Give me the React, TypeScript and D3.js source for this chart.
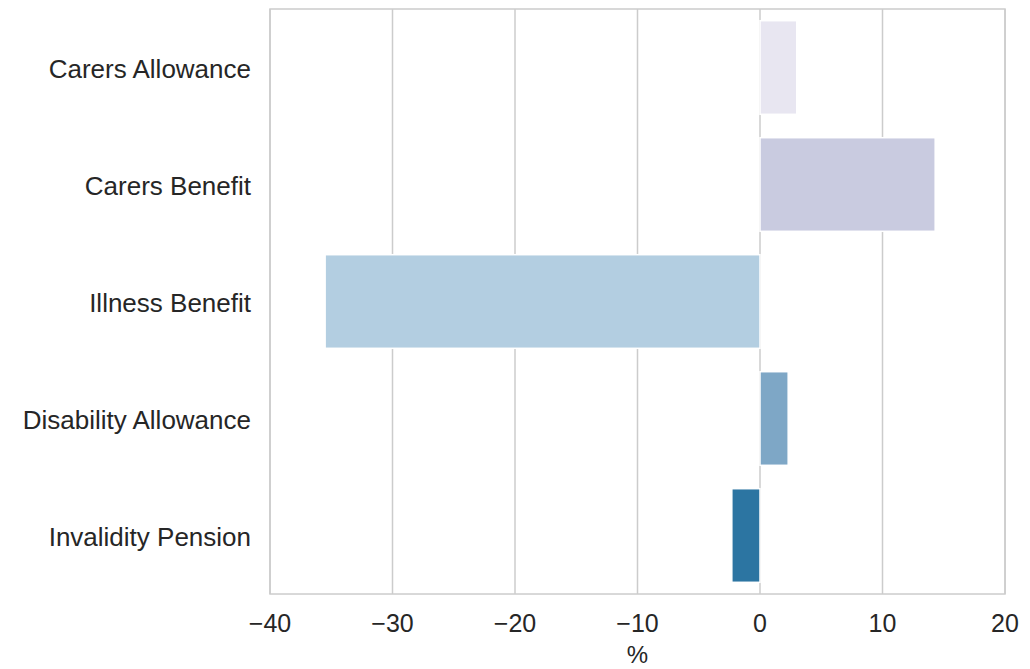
import React from 'react';
import * as d3 from 'd3';

const categories = [
  'Carers Allowance',
  'Carers Benefit',
  'Illness Benefit',
  'Disability Allowance',
  'Invalidity Pension',
];
const changes = [3.0, 14.3, -35.5, 2.3, -2.3];
const barColors = ['#e8e6f1', '#c9cbe0', '#b3cee1', '#7ea7c6', '#2c75a2'];
const xTicks = [-40, -30, -20, -10, 0, 10, 20];

const width = 1030;
const height = 669;
const margin = { top: 9, right: 25, bottom: 75, left: 270 };
const font = '"Liberation Sans", Arial, sans-serif';

export default function App() {
  const x = d3
    .scaleLinear()
    .domain([-40, 20])
    .range([margin.left, width - margin.right]);

  // seaborn style bars: width 0.8 per category
  const y = d3
    .scaleBand()
    .domain(categories)
    .range([margin.top, height - margin.bottom])
    .paddingInner(0.2)
    .paddingOuter(0.1);

  const bottom = height - margin.bottom;

  return (
    <svg
      width={width}
      height={height}
      style={{ position: 'absolute', left: 0, top: 0, display: 'block', background: '#fff' }}
      fontFamily={font}
    >
      {/* vertical grid */}
      {xTicks.map((t) => (
        <line
          key={'g' + t}
          x1={x(t)}
          x2={x(t)}
          y1={margin.top}
          y2={bottom}
          stroke="#cccccc"
          strokeWidth={1.5}
        />
      ))}

      {/* bars */}
      {categories.map((c, i) => {
        const v = changes[i];
        const x0 = x(Math.min(0, v));
        const x1 = x(Math.max(0, v));
        return (
          <rect
            key={c}
            x={x0}
            y={y(c)!}
            width={x1 - x0}
            height={y.bandwidth()}
            fill={barColors[i]}
            stroke="#ffffff"
            strokeWidth={1.5}
          />
        );
      })}

      {/* frame */}
      <rect
        x={margin.left}
        y={margin.top}
        width={width - margin.left - margin.right}
        height={bottom - margin.top}
        fill="none"
        stroke="#cccccc"
        strokeWidth={1.5}
      />

      {/* y labels */}
      {categories.map((c) => (
        <text
          key={'l' + c}
          x={margin.left - 19}
          y={y(c)! + y.bandwidth() / 2 + 1}
          textAnchor="end"
          dominantBaseline="central"
          fontSize={26}
          fill="#262626"
        >
          {c}
        </text>
      ))}

      {/* x tick labels */}
      {xTicks.map((t) => (
        <text
          key={'t' + t}
          x={x(t)}
          y={632}
          textAnchor="middle"
          fontSize={25}
          fill="#262626"
        >
          {t < 0 ? '\u2212' + Math.abs(t) : String(t)}
        </text>
      ))}

      {/* x axis label */}
      <text
        x={(margin.left + width - margin.right) / 2}
        y={663}
        textAnchor="middle"
        fontSize={24}
        fill="#262626"
      >
        %
      </text>
    </svg>
  );
}
